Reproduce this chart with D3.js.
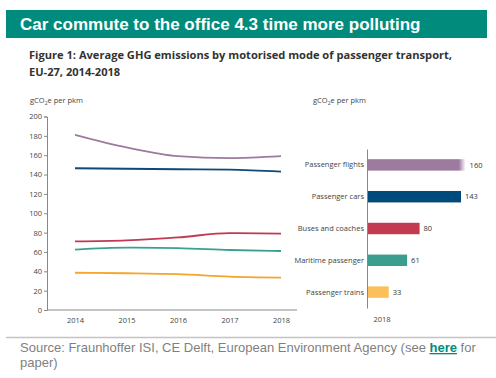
<!DOCTYPE html>
<html>
<head>
<meta charset="utf-8">
<script src="https://cdn.jsdelivr.net/npm/d3@7"></script>
<style>
  body { margin: 0; background: #fff; }
  svg { display: block; }
  .axis text { font-family: "Open Sans", sans-serif; font-size: 7.5px; fill: #444; }
  .axis path, .axis line { stroke: #888; }
</style>
</head>
<body>
<div id="chart"></div>
<script>
// data
const years = [2014, 2015, 2016, 2017, 2018];
const modes = ["Passenger flights", "Passenger cars", "Buses and coaches", "Maritime passenger", "Passenger trains"];
const flights = [181, 168, 159, 157, 159];
const cars = [146.5, 146, 145.5, 145, 143];
const buses = [71, 72, 75, 79.5, 79];
const maritime = [62.5, 64.5, 64, 62, 61];
const trains = [38.5, 38, 37, 34.5, 33.5];
const values2018 = [160, 143, 80, 61, 33];
const yTicks = [0, 20, 40, 60, 80, 100, 120, 140, 160, 180, 200];
const lineColors = ["#9c7b9e", "#0b4a7c", "#c13a52", "#3aa192", "#f5a52a"];
const barColors = ["#9c7b9e", "#004a7c", "#c23b51", "#3a9e8e", "#fcbf5c"];
const barBreak = 150; // bars above this fade out (broken bar)

const W = 496, H = 378;
const svg = d3.select("#chart").append("svg")
  .attr("width", W)
  .attr("height", H);

// Banner title
svg.append("rect")
  .attr("x", 6).attr("y", 10)
  .attr("width", 481).attr("height", 28)
  .attr("fill", "#008b7d");
svg.append("text")
  .attr("x", 20).attr("y", 30)
  .style("font-family", "Liberation Sans, Arial, sans-serif")
  .style("font-weight", "bold")
  .style("font-size", "17px")
  .attr("fill", "#fff")
  .text("Car commute to the office 4.3 time more polluting");

// Figure subtitle
const sub = svg.append("text")
  .style("font-family", "Open Sans, sans-serif")
  .style("font-weight", "bold")
  .style("font-size", "11.1px")
  .attr("fill", "#333");
sub.append("tspan").attr("x", 29).attr("y", 59)
  .text("Figure 1: Average GHG emissions by motorised mode of passenger transport,");
sub.append("tspan").attr("x", 29).attr("y", 76)
  .text("EU-27, 2014-2018");

// unit labels
function unitLabel(x, y) {
  const t = svg.append("text")
    .attr("x", x).attr("y", y)
    .style("font-family", "Open Sans, sans-serif")
    .style("font-size", "7.5px")
    .attr("fill", "#444");
  t.append("tspan").text("gCO");
  t.append("tspan").attr("dy", 2).style("font-size", "5px").text("2");
  t.append("tspan").attr("dy", -2).text("e per pkm");
}
unitLabel(30, 103);
unitLabel(313, 103);

// Line chart
const x = d3.scaleLinear().domain([2014, 2018]).range([75, 281]);
const y = d3.scaleLinear().domain([0, 200]).range([310, 116.5]);

svg.append("g")
  .attr("class", "axis")
  .attr("transform", "translate(47,0)")
  .call(d3.axisLeft(y).tickValues(yTicks).tickSize(3).tickPadding(2));

svg.append("g")
  .attr("class", "axis")
  .attr("transform", "translate(0,310)")
  .call(d3.axisBottom(x).tickValues(years).tickFormat(d3.format("d")).tickSize(0).tickPadding(8))
  .call(g => g.select(".domain").remove());

svg.append("line")
  .attr("x1", 47).attr("x2", 297)
  .attr("y1", 310).attr("y2", 310)
  .attr("stroke", "#888");

const series = [flights, cars, buses, maritime, trains];
const line = d3.line()
  .x((d, i) => x(years[i]))
  .y(d => y(d))
  .curve(d3.curveMonotoneX);

svg.selectAll(".series")
  .data(series)
  .enter().append("path")
  .attr("class", "series")
  .attr("fill", "none")
  .attr("stroke", (d, i) => lineColors[i])
  .attr("stroke-width", 1.8)
  .attr("d", line);

// Bar chart (2018)
const xb = d3.scaleLinear().domain([0, 143]).range([367, 461]);
const yb = d3.scaleBand().domain(modes).range([149, 308]).paddingInner(0.64).paddingOuter(0.32);

const defs = svg.append("defs");
const grad = defs.append("linearGradient")
  .attr("id", "fade")
  .attr("x1", 0).attr("x2", 1).attr("y1", 0).attr("y2", 0);
grad.append("stop").attr("offset", 0).attr("stop-color", barColors[0]).attr("stop-opacity", 1);
grad.append("stop").attr("offset", 0.93).attr("stop-color", barColors[0]).attr("stop-opacity", 1);
grad.append("stop").attr("offset", 1).attr("stop-color", barColors[0]).attr("stop-opacity", 0);

const barEnd = v => xb(Math.min(v, barBreak));

svg.selectAll(".bar")
  .data(values2018)
  .enter().append("rect")
  .attr("class", "bar")
  .attr("x", xb(0))
  .attr("y", (d, i) => yb(modes[i]))
  .attr("width", d => barEnd(d) - xb(0))
  .attr("height", yb.bandwidth())
  .attr("fill", (d, i) => d > barBreak ? "url(#fade)" : barColors[i]);

svg.selectAll(".val")
  .data(values2018)
  .enter().append("text")
  .attr("class", "val")
  .attr("x", d => barEnd(d) + 4)
  .attr("y", (d, i) => yb(modes[i]) + yb.bandwidth() / 2)
  .attr("dy", "0.35em")
  .style("font-family", "Open Sans, sans-serif")
  .style("font-size", "7.5px")
  .attr("fill", "#333")
  .text(d => d);

svg.append("g")
  .attr("class", "axis")
  .attr("transform", "translate(367,0)")
  .call(d3.axisLeft(yb).tickSize(0).tickPadding(3));

svg.append("text")
  .attr("x", 382).attr("y", 322)
  .attr("text-anchor", "middle")
  .style("font-family", "Open Sans, sans-serif")
  .style("font-size", "7.5px")
  .attr("fill", "#444")
  .text("2018");

// Footer
svg.append("line")
  .attr("x1", 6).attr("x2", 496)
  .attr("y1", 337.5).attr("y2", 337.5)
  .attr("stroke", "#c4c4c4")
  .attr("stroke-width", 1.5);

const src = svg.append("text")
  .style("font-family", "Liberation Sans, Arial, sans-serif")
  .style("font-size", "13px")
  .attr("fill", "#7f7f7f");
src.append("tspan").attr("x", 20).attr("y", 352)
  .text("Source: Fraunhoffer ISI, CE Delft, European Environment Agency (see ");
src.append("tspan")
  .style("font-weight", "bold")
  .style("text-decoration", "underline")
  .attr("fill", "#00897b")
  .text("here");
src.append("tspan").text(" for");
src.append("tspan").attr("x", 20).attr("y", 367).text("paper)");
</script>
</body>
</html>
